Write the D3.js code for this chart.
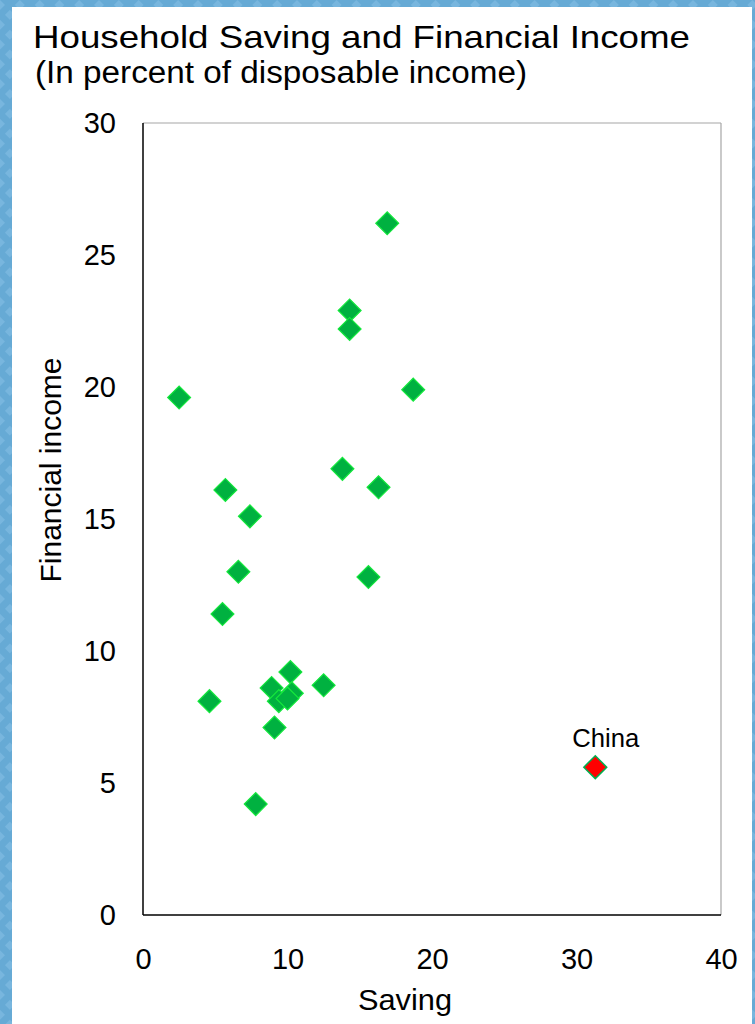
<!DOCTYPE html>
<html>
<head>
<meta charset="utf-8">
<script src="https://cdn.jsdelivr.net/npm/d3@7"></script>
<style>
  html, body { margin: 0; padding: 0; background: #68acd6; }
  svg { display: block; }
  text { font-family: "Liberation Sans", Arial, Helvetica, sans-serif; fill: #000; }
</style>
</head>
<body>
<svg id="chart" width="755" height="1024"></svg>
<script>
// Household saving vs. financial income, percent of disposable income
const countries = ["A","B","C","D","E","F","G","H","I","J","K","L","M","N","O","P","Q","R","S","T","U"];
const saving = [16.9, 14.3, 14.3, 2.5, 18.7, 13.8, 16.3, 5.7, 7.4, 6.6, 15.6, 5.5, 10.2, 8.9, 12.5, 4.6, 10.3, 9.4, 10.0, 9.1, 7.8];
const financialIncome = [26.2, 22.9, 22.2, 19.6, 19.9, 16.9, 16.2, 16.1, 15.1, 13.0, 12.8, 11.4, 9.2, 8.6, 8.7, 8.1, 8.4, 8.1, 8.2, 7.1, 4.2];
const chinaLabel = "China";
const chinaSaving = 31.3;
const chinaIncome = 5.6;

const xTicks = [0, 10, 20, 30, 40];
const yTicks = [0, 5, 10, 15, 20, 25, 30];

const titleText = "Household Saving and Financial Income";
const subtitleText = "(In percent of disposable income)";
const xLabel = "Saving";
const yLabel = "Financial income";

const svg = d3.select("#chart");

// Textured blue backdrop
const defs = svg.append("defs");
const pat = defs.append("pattern")
  .attr("id", "bgTex").attr("patternUnits", "userSpaceOnUse")
  .attr("width", 14).attr("height", 14)
  .attr("patternTransform", "rotate(45)");
pat.append("rect").attr("width", 14).attr("height", 14).attr("fill", "#66aad5");
pat.append("rect").attr("width", 7).attr("height", 7).attr("fill", "#78b6de");
svg.append("rect").attr("width", 755).attr("height", 1024).attr("fill", "url(#bgTex)");

// White slide panel
svg.append("rect").attr("x", 12).attr("y", 7).attr("width", 740).attr("height", 1030).attr("fill", "#fff");

// Plot area
const plot = { left: 143, top: 123, right: 721, bottom: 915 };
const x = d3.scaleLinear().domain([0, 40]).range([plot.left, plot.right]);
const y = d3.scaleLinear().domain([0, 30]).range([plot.bottom, plot.top]);

// Titles
svg.append("text").attr("x", 33).attr("y", 48)
  .attr("font-size", 32).attr("textLength", 657).attr("lengthAdjust", "spacingAndGlyphs")
  .text(titleText);
svg.append("text").attr("x", 35).attr("y", 83)
  .attr("font-size", 31).attr("textLength", 492).attr("lengthAdjust", "spacingAndGlyphs")
  .text(subtitleText);

// Frame: top/right light grey, left/bottom black
const frame = svg.append("g");
frame.append("line").attr("x1", plot.left).attr("x2", plot.right).attr("y1", plot.top).attr("y2", plot.top)
  .attr("stroke", "#a6a6a6").attr("stroke-width", 1.2);
frame.append("line").attr("x1", plot.right).attr("x2", plot.right).attr("y1", plot.top).attr("y2", plot.bottom)
  .attr("stroke", "#a6a6a6").attr("stroke-width", 1.2);

// Axes (labels only; no tick marks)
const xAxis = svg.append("g").attr("transform", `translate(0,${plot.bottom})`)
  .call(d3.axisBottom(x).tickValues(xTicks).tickSize(0).tickPadding(33).tickFormat(d3.format("d")));
const yAxis = svg.append("g").attr("transform", `translate(${plot.left},0)`)
  .call(d3.axisLeft(y).tickValues(yTicks).tickSize(0).tickPadding(27).tickFormat(d3.format("d")));
[xAxis, yAxis].forEach(g => {
  g.select(".domain").remove();
  g.selectAll("text").attr("font-size", 29).attr("font-family", null).attr("fill", "#000");
  g.attr("font-family", null).attr("font-size", null);
});

frame.append("line").attr("x1", plot.left).attr("x2", plot.left).attr("y1", plot.top).attr("y2", plot.bottom)
  .attr("stroke", "#000").attr("stroke-width", 1.5);
frame.append("line").attr("x1", plot.left).attr("x2", plot.right).attr("y1", plot.bottom).attr("y2", plot.bottom)
  .attr("stroke", "#000").attr("stroke-width", 1.5);

// Axis titles
svg.append("text").attr("x", 405).attr("y", 1010).attr("text-anchor", "middle")
  .attr("font-size", 29).attr("textLength", 94).attr("lengthAdjust", "spacingAndGlyphs")
  .text(xLabel);
svg.append("text")
  .attr("transform", "translate(61,470) rotate(-90)")
  .attr("text-anchor", "middle")
  .attr("font-size", 29).attr("textLength", 225).attr("lengthAdjust", "spacingAndGlyphs")
  .text(yLabel);

// Diamond markers
const diamond = d3.symbol().type(d3.symbolSquare).size(262);
const points = countries.map((c, i) => ({ name: c, sx: saving[i], fi: financialIncome[i] }));

svg.append("g").selectAll("path").data(points).join("path")
  .attr("d", diamond)
  .attr("transform", d => `translate(${x(d.sx)},${y(d.fi)}) rotate(45)`)
  .attr("fill", "#00b140")
  .attr("stroke", "#14e83c")
  .attr("stroke-width", 1.2);

// China highlight
svg.append("path")
  .attr("d", diamond)
  .attr("transform", `translate(${x(chinaSaving)},${y(chinaIncome)}) rotate(45)`)
  .attr("fill", "#ff0000")
  .attr("stroke", "#00b050")
  .attr("stroke-width", 1.5);
svg.append("text")
  .attr("x", x(chinaSaving) + 10.5).attr("y", y(chinaIncome) - 20)
  .attr("text-anchor", "middle").attr("font-size", 25)
  .attr("textLength", 67).attr("lengthAdjust", "spacingAndGlyphs")
  .text(chinaLabel);
</script>
</body>
</html>
